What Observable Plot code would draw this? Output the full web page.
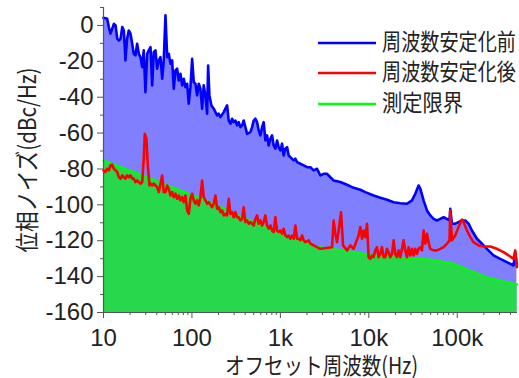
<!DOCTYPE html>
<html><head><meta charset="utf-8">
<script src="https://cdn.jsdelivr.net/npm/d3@7"></script>
<script src="https://cdn.jsdelivr.net/npm/@observablehq/plot@0.6"></script>
<style>body{margin:0;background:#fff}#chart{position:relative;width:519px;height:378px}</style>
</head><body><div id="chart"></div>
<script>
// 周波数安定化前 (before stabilization)
const freqBefore = [10,11,11.5,12,13.1,13.7,14.3,14.9,15.6,16.3,17,17.7,18.5,19.3,20.2,21.1,22,23,24,25.1,26.2,27.4,28.5,29.8,31.2,32.5,34,35.5,37,38.7,40.4,42.2,44.1,46.1,48,50.2,52.5,54.7,57.2,59.7,62.3,65.1,68,70.9,74.1,77.5,80.8,84.5,88.3,92,96.2,100.5,104.8,109.5,114.5,119.4,124.7,130.4,135.9,142.1,148.5,152.4,157.6,166.1,176.4,184.4,192.7,200.9,209.9,228.8,239.1,249.9,260.6,272.3,284.6,296.7,310.1,324.1,337.9,353.2,369.2,384.9,402.3,420.5,458.1,478.8,499.3,521.8,545.3,568.6,594.3,621.1,647.6,676.9,707.5,737.6,770.9,805.7,840,878,917.7,956.8,1000,1045,1090,1139,1191,1241,1297,1414,1478,1545,1683,1834,2003,2183,2379,2598,2831,3086,3371,3673,4003,4764,5671,6733,8017,9131,11330,13490,16060,19070,22700,27020,30770,33540,36540,38190,41620,45470,49550,53990,58980,64270,70030,76500,81850,83350,87120,94930,103400,113000,123100,134200,146600,167000,190100,216600,257200,306100,364400,432800,452300,472700];
const dbBefore = [4.3,3.7,-1.0,-4.6,0.9,0,-7.4,-8.4,-7.4,-0.9,-2.8,-19.5,-7.4,-2.8,-4.6,-10.2,-15.8,-16.7,-10.2,-15.8,-17.7,-23.2,-13.9,-37.2,-15.8,-13.9,-12.1,-33.4,-14.9,-13.9,-24.1,-19.5,-17.7,-29.7,-19.5,5.6,-17.7,-15.8,-21.3,-19.5,-35.3,-25.1,-24.1,-30.7,-26.9,-33.4,-29.7,-34.4,-32.5,-43.6,-34.4,-18.6,-31.6,-32.5,-39.0,-32.5,-35.3,-46.4,-33.4,-39.0,-49.2,-22.3,-39.0,-44.6,-46.4,-48.3,-50.2,-49.2,-51.1,-48.3,-46.4,-44.6,-53.0,-54.8,-52.0,-53.9,-53.0,-55.7,-53.9,-56.7,-55.7,-53.0,-56.7,-60.4,-59.5,-56.7,-53.0,-52.0,-53.9,-58.5,-61.3,-56.7,-53.9,-64.1,-61.3,-66.9,-63.2,-61.3,-66.9,-68.7,-64.1,-67.8,-69.7,-65.9,-72.5,-68.7,-67.8,-72.5,-73.4,-75.2,-74.3,-76.2,-77.1,-78.0,-79.0,-79.0,-80.8,-79.9,-83.6,-82.7,-82.7,-84.6,-86.4,-87.3,-88.8,-90.5,-91.6,-92.9,-94.8,-96.0,-97.2,-98.5,-99.1,-99.4,-97.5,-93.8,-89.2,-91.0,-97.5,-103.1,-105.9,-107.8,-108.7,-107.8,-106.9,-107.8,-108.7,-102.2,-110.5,-110.5,-109.6,-108.7,-108.7,-110.5,-114.3,-118.9,-121.7,-124.5,-128.2,-130.1,-131.9,-133.8,-126.4,-133.8];

// 周波数安定化後 (after stabilization)
const freqAfter = [10,10.5,11,11.5,12,12.5,13.1,13.7,14.3,14.9,15.6,16.3,17,17.7,18.5,19.3,20.2,21.1,22,23,24,25.1,26.2,27.4,28.5,29.3,30.6,31.7,33.1,34,35.5,37,38.7,40.4,42.2,44.1,46.1,48,50.2,52.5,54.7,57.2,59.7,62.3,65.1,68,70.9,74.1,77.5,80.8,84.5,88.3,92,96.2,100.5,104.8,109.5,114.5,119.4,124.7,130.4,135.9,142.1,148.5,154.8,169.2,176.4,184.4,192.7,200.9,209.9,219.4,228.8,239.1,249.9,260.6,272.3,284.6,296.7,310.1,324.1,337.9,353.2,369.2,384.9,402.3,420.5,438.4,458.1,478.8,499.3,521.8,545.3,568.6,594.3,621.1,647.6,676.9,707.5,737.6,770.9,805.7,840,878,917.7,956.8,1000,1045,1090,1139,1191,1241,1297,1356,1414,1478,1545,1610,1683,1759,1834,1917,2089,2183,2379,2831,3837,4003,4183,4371,4559,4853,5110,5671,6180,6733,7669,8017,8380,8734,9131,9545,9948,10390,10870,11330,11840,12380,12900,13490,14100,14700,15370,16060,16740,17500,18290,19070,19930,20830,21720,22700,24740,25850,27020,28170,29440,30770,32090,33540,35040,36540,38190,39920,41620,43500,45470,47410,49550,53990,58980,64270,70030,76500,81850,83350,87120,94930,103400,113000,117800,128700,140300,152900,174100,198300,236000,280900,333600,397200,432800,452300,472700];
const dbAfter = [-80.8,-81.8,-79.9,-80.8,-78.0,-77.6,-79.9,-80.8,-81.8,-84.6,-85.4,-83.6,-84.6,-85.4,-83.6,-84.6,-83.6,-85.4,-85.4,-87.3,-86.4,-87.3,-88.2,-87.3,-74.3,-60.4,-63.2,-78.0,-89.2,-88.2,-89.2,-88.2,-89.2,-90.1,-92.9,-88.2,-83.6,-92.9,-92.9,-89.2,-91.0,-94.8,-92.9,-95.7,-93.8,-96.6,-94.8,-97.5,-95.7,-98.5,-94.8,-103.1,-105.0,-96.6,-93.8,-97.5,-99.4,-97.5,-100.3,-95.7,-86.4,-95.7,-97.5,-99.4,-98.5,-101.3,-99.4,-94.8,-102.2,-101.3,-104.1,-103.1,-105.9,-105.0,-105.9,-96.6,-105.0,-104.1,-106.9,-104.1,-106.9,-106.9,-108.7,-107.8,-101.3,-109.6,-108.7,-110.5,-109.6,-110.5,-111.5,-107.8,-105.9,-110.5,-108.7,-111.5,-109.6,-105.9,-111.5,-113.3,-111.5,-114.3,-115.2,-106.9,-114.3,-115.2,-114.3,-116.1,-113.3,-117.1,-118.0,-117.1,-118.9,-117.1,-118.9,-111.5,-118.9,-118.9,-119.8,-117.1,-119.8,-120.8,-119.8,-121.7,-122.6,-124.5,-123.6,-108.7,-116.1,-120.8,-114.3,-104.1,-122.6,-125.4,-122.6,-124.5,-117.1,-112.4,-118.9,-114.3,-118.0,-110.5,-129.2,-130.1,-128.2,-129.2,-125.4,-123.6,-129.2,-127.3,-123.6,-129.2,-129.2,-124.5,-126.4,-129.2,-127.3,-119.8,-127.3,-129.2,-125.4,-129.2,-119.8,-125.4,-129.2,-123.6,-128.2,-124.5,-128.2,-124.5,-127.3,-124.5,-123.6,-125.4,-114.3,-121.7,-116.1,-120.8,-124.5,-125.4,-125.4,-124.5,-123.6,-121.7,-119.8,-103.1,-119.8,-117.1,-112.4,-108.2,-109.6,-114.3,-118.0,-120.8,-122.6,-123.2,-123.2,-124.5,-126.4,-128.8,-130.1,-125.4,-134.7];

// 測定限界 (measurement limit)
const freqLimit = [10,34,161.8,402.3,1000,2486,6180,13490,49550,90150,129700,218300,476000];
const dbLimit = [-75.3,-85.3,-98.5,-107.6,-115.9,-123.2,-126.0,-128.8,-130.4,-132.7,-136.0,-140.5,-144.4];

const seriesNames = ["周波数安定化前","周波数安定化後","測定限界"];
const seriesColors = ["#0000ff","#ff0000","#00ff00"];
const fillBefore = "#8080ff";
const fillLimit = "#28d84c";

const yTicks = [-160,-140,-120,-100,-80,-60,-40,-20,0];
const yMinorTicks = [-150,-130,-110,-90,-70,-50,-30,-10,10];
const xTicks = [10,100,1000,10000,100000];
const xTickLabels = ["10","100","1k","10k","100k"];
const xMinorTicks = [20,30,40,50,60,70,80,90,200,300,400,500,600,700,800,900,2000,3000,4000,5000,6000,7000,8000,9000,20000,30000,40000,50000,60000,70000,80000,90000,200000,300000,400000];
const xLabel = "オフセット周波数(Hz)";
const yLabel = "位相ノイズ(dBc/Hz)";

const before = freqBefore.map((f,i)=>({f, v: dbBefore[i]}));
const after = freqAfter.map((f,i)=>({f, v: dbAfter[i]}));
const limit = freqLimit.map((f,i)=>({f, v: dbLimit[i]}));

const axisColor = "#555";
const textColor = "#222";
const latin = "'Liberation Sans', Arial, sans-serif";
const cjk = "'Noto Sans CJK JP', sans-serif";

const plot = Plot.plot({
  width: 519, height: 378,
  marginLeft: 103, marginRight: 2, marginTop: 7, marginBottom: 66,
  style: {fontFamily: latin, background: "#fff", overflow: "visible"},
  x: {type: "log", domain: [10, 480000], axis: null},
  y: {domain: [-160, 10], axis: null},
  marks: [
    Plot.areaY(before, {x: "f", y1: -160, y2: "v", fill: fillBefore}),
    Plot.areaY(limit, {x: "f", y1: -160, y2: "v", fill: fillLimit}),
    Plot.line(limit, {x: "f", y: "v", stroke: seriesColors[2], strokeWidth: 2}),
    Plot.line(before, {x: "f", y: "v", stroke: seriesColors[0], strokeWidth: 2.6, strokeLinejoin: "round"}),
    Plot.line(after, {x: "f", y: "v", stroke: seriesColors[1], strokeWidth: 2.6, strokeLinejoin: "round"}),
    Plot.ruleX([10], {y1: -160, y2: 10, stroke: axisColor, strokeWidth: 1.2}),
    Plot.ruleY([-160], {stroke: axisColor, strokeWidth: 1.2}),
    Plot.axisY({ticks: yTicks, tickSize: 6, tickPadding: 4, fontSize: 24, stroke: axisColor, fill: textColor, tickFormat: d => String(d), label: null}),
    Plot.axisY({ticks: yMinorTicks, tickSize: 3, text: null, stroke: axisColor, label: null}),
    Plot.axisX({ticks: xTicks, tickSize: 6, tickPadding: 10, fontSize: 24, stroke: axisColor, fill: textColor, tickFormat: d => xTickLabels[xTicks.indexOf(d)], label: null}),
    Plot.axisX({ticks: xMinorTicks, tickSize: 3, text: null, stroke: axisColor, label: null})
  ]
});
document.getElementById("chart").appendChild(plot);

const svg = d3.select(plot);
// axis titles
svg.append("text").text(xLabel)
  .attr("x", 321.5).attr("y", 364).attr("text-anchor", "middle").attr("dominant-baseline", "central")
  .attr("font-family", cjk).attr("font-size", 23).attr("fill", textColor)
  .attr("textLength", 193).attr("lengthAdjust", "spacingAndGlyphs");
svg.append("text").text(yLabel)
  .attr("transform", "translate(25,160) rotate(-90)").attr("text-anchor", "middle").attr("dominant-baseline", "central")
  .attr("font-family", cjk).attr("font-size", 24).attr("fill", textColor)
  .attr("textLength", 185).attr("lengthAdjust", "spacingAndGlyphs");
// legend
const legendRows = [
  {lineY: 43, textY: 40, len: 134},
  {lineY: 73, textY: 70, len: 134},
  {lineY: 104, textY: 101, len: 81}
];
const lg = svg.append("g");
seriesNames.forEach((name, i) => {
  const r = legendRows[i];
  lg.append("line").attr("x1", 318).attr("x2", 376).attr("y1", r.lineY).attr("y2", r.lineY)
    .attr("stroke", seriesColors[i]).attr("stroke-width", 2.6);
  lg.append("text").text(name).attr("x", 382).attr("y", r.textY)
    .attr("text-anchor", "start").attr("dominant-baseline", "central")
    .attr("font-family", cjk).attr("font-size", 23).attr("fill", textColor)
    .attr("textLength", r.len).attr("lengthAdjust", "spacingAndGlyphs");
});
</script>
</body></html>
